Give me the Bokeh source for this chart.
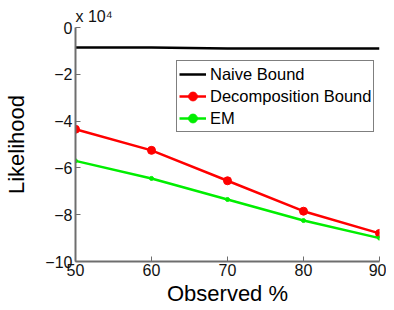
from bokeh.plotting import figure
from bokeh.models import Range1d, Legend, LegendItem, FixedTicker, Title
from bokeh.embed import file_html
from bokeh.resources import INLINE

# data (likelihood values, displayed in units of 1e4)
observed = [50, 60, 70, 80, 90]
naive_bound = [-8500, -8500, -9000, -9000, -9000]
decomposition_bound = [-43500, -52500, -65500, -78500, -88000]
em = [-57000, -64500, -73500, -82500, -90000]
scale = 1e4
x_ticks = [50, 60, 70, 80, 90]
y_ticks = [0, -2, -4, -6, -8, -10]

FONT = "Liberation Sans"

p = figure(width=386, height=308, output_backend="svg", toolbar_location=None,
           x_range=Range1d(50, 90), y_range=Range1d(-10, 0),
           min_border_left=75, min_border_right=7, min_border_top=27, min_border_bottom=46)
p.outline_line_color = None
p.grid.visible = False
p.background_fill_color = "white"
p.border_fill_color = "white"

for ax in (p.xaxis[0], p.yaxis[0]):
    ax.axis_line_color = "#6e6e6e"
    ax.axis_line_width = 2
    ax.major_tick_line_color = "#6e6e6e"
    ax.major_tick_line_width = 1
    ax.major_tick_in = 5
    ax.major_tick_out = 0
    ax.minor_tick_line_color = None
    ax.major_label_text_font = FONT
    ax.major_label_text_font_size = "16px"
    ax.major_label_text_color = "#111111"
    ax.major_label_standoff = 3
    ax.axis_label_text_font = FONT
    ax.axis_label_text_font_size = "22px"
    ax.axis_label_text_font_style = "normal"
    ax.axis_label_text_color = "black"

p.xaxis.ticker = FixedTicker(ticks=x_ticks)
p.yaxis.ticker = FixedTicker(ticks=y_ticks)
p.yaxis.major_label_overrides = {t: ("0" if t == 0 else "\u2212" + str(-t)) for t in y_ticks}
p.xaxis.axis_label = "Observed %"
p.yaxis.axis_label = "Likelihood"
p.xaxis.major_label_standoff = 2
p.xaxis.axis_label_standoff = 2
p.yaxis.axis_label_standoff = 13

ys_n = [v / scale for v in naive_bound]
ys_d = [v / scale for v in decomposition_bound]
ys_e = [v / scale for v in em]

r1 = p.line(observed, ys_n, line_color="black", line_width=2.5)
r2 = p.line(observed, ys_d, line_color="#ff0000", line_width=2.5)
r2m = p.scatter(observed, ys_d, size=8, marker="circle", fill_color="#ff0000", line_color="#ff0000")
r3 = p.line(observed, ys_e, line_color="#00ee00", line_width=2.5)
r3m = p.scatter(observed, ys_e, size=4, marker="circle", fill_color="#00ee00", line_color="#00ee00")

legend = Legend(items=[
    LegendItem(label="Naive Bound", renderers=[r1]),
    LegendItem(label="Decomposition Bound", renderers=[r2, r2m]),
    LegendItem(label="EM", renderers=[r3, r3m]),
], location=(101, 129))
legend.label_text_font = FONT
legend.label_text_font_size = "16.5px"
legend.label_text_color = "black"
legend.border_line_color = "black"
legend.border_line_width = 1
legend.label_height = 22
legend.glyph_height = 22
legend.glyph_width = 27
legend.spacing = 0
legend.padding = 2
legend.margin = 0
legend.label_standoff = 4
p.add_layout(legend, "center")

p.add_layout(Title(text="x 10\u2074", text_font=FONT, text_font_size="16px",
                   text_font_style="normal", text_color="#111111", align="left",
                   offset=0, standoff=5), "above")

open("out.html", "w").write(file_html(p, INLINE))
